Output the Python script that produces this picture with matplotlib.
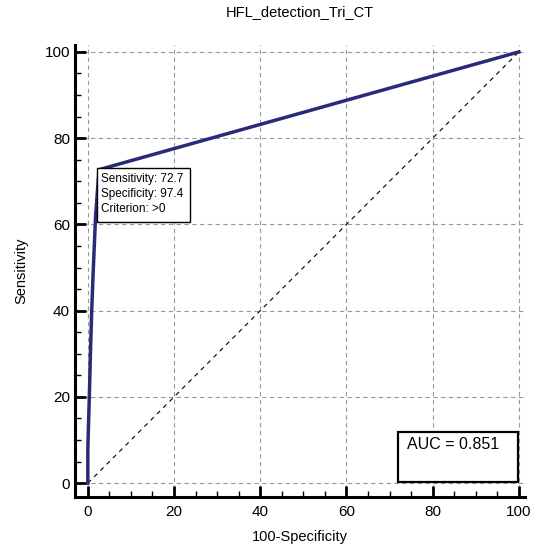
import matplotlib.pyplot as plt
from matplotlib.patches import Rectangle
from matplotlib.ticker import MultipleLocator

plt.rcParams['font.family'] = ['Liberation Sans', 'DejaVu Sans']

# ROC curve points (100-Specificity, Sensitivity)
fpr = [0, 0, 0.2, 0.4, 0.6, 0.9, 1.2, 1.5, 1.8, 2.1, 2.6, 100]
tpr = [0, 8, 15, 22, 30, 40, 48, 55, 62, 66, 72.7, 100]
diag = [0, 100]
auc_text = "AUC = 0.851"
point_text = "Sensitivity: 72.7\nSpecificity: 97.4\nCriterion: >0"

fig = plt.figure(figsize=(5.35, 5.5), dpi=100)
ax = fig.add_axes([0.140, 0.0964, 0.842, 0.821])

ax.plot(diag, diag, color='black', lw=0.8, ls=(0, (4, 4)))
ax.plot(fpr, tpr, color='#2a2a78', lw=2.5, solid_joinstyle='miter')

ax.set_xlim(-3, 101.5)
ax.set_ylim(-3.2, 101.5)
ax.xaxis.set_major_locator(MultipleLocator(20))
ax.yaxis.set_major_locator(MultipleLocator(20))
ax.xaxis.set_minor_locator(MultipleLocator(5))
ax.yaxis.set_minor_locator(MultipleLocator(5))
ax.tick_params(which='major', direction='in', length=8, width=2, labelsize=11)
ax.tick_params(axis='x', which='major', pad=6)
ax.tick_params(which='minor', direction='in', length=4, width=1)
ax.grid(True, which='major', color='#999999', ls=(0, (4, 3)), lw=0.8)
ax.set_axisbelow(True)

for s in ['top', 'right']:
    ax.spines[s].set_visible(False)
for s in ['left', 'bottom']:
    ax.spines[s].set_linewidth(2.2)

ax.set_title("HFL_detection_Tri_CT", fontsize=10.5, pad=21)
ax.set_xlabel("100-Specificity", fontsize=10.5, labelpad=8)
ax.set_ylabel("Sensitivity", fontsize=10.5, labelpad=12)

# point annotation box
ax.add_patch(Rectangle((2.1, 60.6), 21.6, 12.5, fc='white', ec='black', lw=1, zorder=4))
ax.text(3.1, 71.9, point_text, fontsize=8.5, va='top', ha='left',
        linespacing=1.35, zorder=5)

# AUC box
ax.add_patch(Rectangle((72.0, 0.2), 27.8, 11.6, fc='white', ec='black', lw=1.6, zorder=4))
ax.text(74.0, 10.6, auc_text, fontsize=11.5, va='top', ha='left', zorder=5)

fig.savefig("out.png", dpi=100)
